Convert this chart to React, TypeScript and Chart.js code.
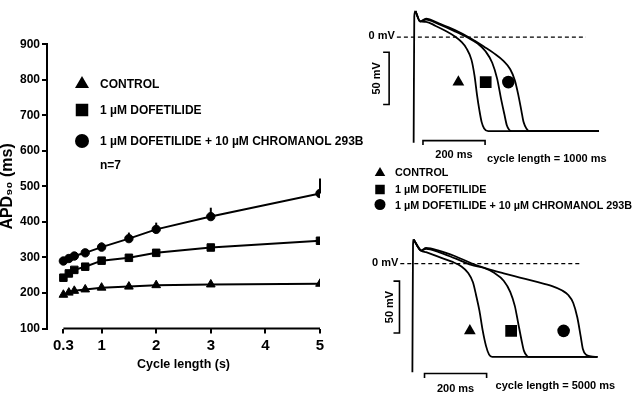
import React, { useEffect, useRef } from "react";
import { Chart, registerables } from "chart.js";

Chart.register(...registerables);

const FONT = "'Liberation Sans', Arial, Helvetica, sans-serif";
const BLACK = "#000";

// ---------------- Left panel data (APD90 vs cycle length) ----------------
const cycleLengths = [0.3, 0.4, 0.5, 0.7, 1, 1.5, 2, 3, 5];
const apdControl = [195, 201, 206, 210, 215, 218, 222, 224, 226];
const apdDofetilide = [243, 255, 265, 274, 291, 299, 313, 328, 347];
const apdChromanol = [290, 297, 304, 313, 329, 353, 379, 415, 480];
const apdChromanolErr = [3, 4, 4, 6, 13, 17, 19, 25, 42];
const xTickValues = [0.3, 1, 2, 3, 4, 5];
const xTickLabels = ["0.3", "1", "2", "3", "4", "5"];
const seriesNames = ["CONTROL", "1 µM DOFETILIDE", "1 µM DOFETILIDE + 10 µM CHROMANOL 293B"];
const seriesStyles = ["triangle", "rect", "circle"];

// ---------------- Action potential traces (time in ms, voltage in mV) ----------------
// cycle length = 1000 ms
const up1000T = [0, 2, 6];
const up1000V = [-101, 20, 25];
const ctrl1000T = [6, 21, 40, 71, 102, 133, 154, 170, 186, 196, 204, 212, 219, 227, 240, 597];
const ctrl1000V = [25, 15, 14.7, 10.7, 6.1, 0.6, -4.6, -10.7, -21.5, -36.8, -55.2, -70.5, -81.3, -87.4, -90, -90];
const dof1000T = [6, 21, 40, 81, 133, 175, 206, 232, 253, 269, 281, 292, 300, 308, 316, 597];
const dof1000V = [25, 15, 16.9, 12.3, 5.5, -0.6, -6.1, -13.8, -24.5, -39.9, -58.3, -73.6, -84.3, -88.9, -90, -90];
const chr1000T = [6, 21, 40, 81, 133, 186, 227, 258, 290, 311, 326, 337, 347, 354, 363, 373, 597];
const chr1000V = [25, 15, 17.8, 13.2, 6.7, -1.5, -9.2, -15.3, -23, -30.7, -41.4, -55.2, -70.5, -81.3, -87.4, -90, -90];
const mark1000T = [144, 232, 305];
const mark1000V = [-43, -43, -43];

// cycle length = 5000 ms
const up5000T = [0, 2, 4];
const up5000V = [-105, 18, 23.3];
const ctrl5000T = [4, 28, 44, 85, 127, 158, 179, 195, 205, 216, 226, 237, 247, 257, 596];
const ctrl5000V = [23.3, 12.5, 11, 6.4, 1.8, -2.8, -8.9, -18.1, -30.4, -45.7, -64.1, -79.5, -88, -90.2, -90.2];
const dof5000T = [4, 28, 44, 85, 138, 190, 231, 263, 294, 315, 330, 341, 351, 359, 369, 377, 596];
const dof5000V = [23.3, 12.5, 14.1, 11, 4.9, -1.3, -4.3, -8.9, -16.6, -27.3, -41.1, -58, -73.3, -84.1, -89.3, -90.2, -90.2];
const chr5000T = [4, 28, 44, 85, 138, 190, 242, 294, 346, 398, 450, 481, 502, 518, 531, 542, 549, 559, 575, 596];
const chr5000V = [23.3, 12.5, 15, 12.5, 7, 0.3, -5.2, -9.5, -13.5, -17.5, -21.8, -25.8, -30.4, -38.1, -51.9, -70.3, -82.5, -88, -89.6, -90.2];
const mark5000T = [185, 318, 487];
const mark5000V = [-65, -65, -65];

// ---------------- helpers ----------------
function pts(xs: number[], ys: number[]) {
  return xs.map((x, i) => ({ x, y: ys[i] }));
}

function drawMarker(ctx: CanvasRenderingContext2D, style: string, x: number, y: number, size: number) {
  ctx.beginPath();
  if (style === "triangle") {
    const h = (size * Math.sqrt(3)) / 2;
    ctx.moveTo(x, y - (h * 2) / 3);
    ctx.lineTo(x + size / 2, y + h / 3);
    ctx.lineTo(x - size / 2, y + h / 3);
    ctx.closePath();
  } else if (style === "rect") {
    ctx.rect(x - size / 2, y - size / 2, size, size);
  } else {
    ctx.arc(x, y, size / 2, 0, Math.PI * 2);
  }
  ctx.fill();
}

// ---------------- left chart ----------------
const leftPlugin = {
  id: "leftExtras",
  afterDatasetsDraw(chart: any) {
    const { ctx, scales } = chart;
    const x = scales.x;
    const y = scales.y;
    ctx.save();
    ctx.strokeStyle = BLACK;
    ctx.lineWidth = 2;
    // split x-axis line from the first to the last tick
    ctx.beginPath();
    ctx.moveTo(x.getPixelForValue(xTickValues[0]), chart.chartArea.bottom);
    ctx.lineTo(x.getPixelForValue(xTickValues[xTickValues.length - 1]), chart.chartArea.bottom);
    ctx.stroke();
    // error bars (upward)
    cycleLengths.forEach((c, i) => {
      const px = x.getPixelForValue(c);
      ctx.beginPath();
      ctx.moveTo(px, y.getPixelForValue(apdChromanol[i]));
      ctx.lineTo(px, y.getPixelForValue(apdChromanol[i] + apdChromanolErr[i]));
      ctx.stroke();
    });
    ctx.restore();
  },
  afterDraw(chart: any) {
    const ctx = chart.ctx;
    ctx.save();
    ctx.fillStyle = BLACK;
    ctx.font = `bold 12px ${FONT}`;
    ctx.textBaseline = "middle";
    ctx.textAlign = "left";
    const rowY = [84, 110, 141];
    const sizes = [14, 12.5, 14];
    seriesNames.forEach((name, i) => {
      drawMarker(ctx, seriesStyles[i], 82, rowY[i], sizes[i]);
      ctx.fillText(name, 100, rowY[i] + 0.5);
    });
    ctx.fillText("n=7", 100, 166);
    ctx.restore();
  },
};

function lineDs(label: string, ys: number[], style: string, radius: number) {
  return {
    label,
    data: pts(cycleLengths, ys),
    borderColor: BLACK,
    backgroundColor: BLACK,
    borderWidth: 2,
    pointStyle: style,
    pointRadius: radius,
    pointBorderWidth: 1,
    pointBackgroundColor: BLACK,
    pointBorderColor: BLACK,
    tension: 0,
  };
}

function makeLeftConfig(): any {
  return {
    type: "line",
    data: {
      datasets: [
        lineDs(seriesNames[0], apdControl, "triangle", 5),
        lineDs(seriesNames[1], apdDofetilide, "rect", 5.3),
        lineDs(seriesNames[2], apdChromanol, "circle", 4.2),
      ],
    },
    options: {
      responsive: false,
      animation: false,
      devicePixelRatio: 1,
      events: [],
      layout: { padding: { left: 0, top: 44.3, right: 320, bottom: 0 } },
      plugins: { legend: { display: false }, tooltip: { enabled: false } },
      scales: {
        x: {
          type: "linear",
          min: 0,
          max: 5,
          afterFit: (s: any) => {
            s.height = 404 - 328.5;
          },
          afterBuildTicks: (s: any) => {
            s.ticks = xTickValues.map((v) => ({ value: v }));
          },
          border: { display: false },
          grid: { display: true, drawOnChartArea: false, drawTicks: true, tickLength: 5, color: BLACK, lineWidth: 2 },
          ticks: {
            autoSkip: false,
            maxRotation: 0,
            padding: 3,
            color: BLACK,
            font: { family: FONT, size: 15, weight: "bold" },
            callback: (_v: any, i: number) => xTickLabels[i],
          },
          title: {
            display: true,
            text: "Cycle length (s)",
            color: BLACK,
            font: { family: FONT, size: 12.5, weight: "bold" },
            padding: { top: 0, bottom: 32 },
          },
        },
        y: {
          type: "linear",
          min: 100,
          max: 900,
          afterFit: (s: any) => {
            s.width = 47;
          },
          border: { display: true, color: BLACK, width: 2 },
          grid: { display: true, drawOnChartArea: false, drawTicks: true, tickLength: 5, color: BLACK, lineWidth: 2 },
          ticks: {
            stepSize: 100,
            padding: 2,
            color: BLACK,
            font: { family: FONT, size: 12, weight: "bold" },
          },
          title: {
            display: true,
            text: "APD₉₀ (ms)",
            color: BLACK,
            font: { family: FONT, size: 16, weight: "bold", lineHeight: 1 },
            padding: { top: 0, bottom: 0 },
          },
        },
      },
    },
    plugins: [leftPlugin],
  };
}

// ---------------- trace charts ----------------
type PanelLayout = {
  padding: { left: number; top: number; right: number; bottom: number };
  xRange: [number, number];
  yRange: [number, number];
  zeroFrom: number;
  zeroTo: number;
  mvBarT: number;
  mvBarFrom: number;
  mvBarTo: number;
  mvLabelDx: number;
  msBarV: number;
  msBarFrom: number;
  msBarTo: number;
  msLabelDy: number;
  cycleLabel: string;
  cycleDx: number;
  cycleDy: number;
};

const layout1000: PanelLayout = {
  padding: { left: 360, top: 0, right: 0, bottom: 189 },
  xRange: [-172.8, 702.2],
  yRange: [-170.2, 27.6],
  zeroFrom: -54,
  zeroTo: 555,
  mvBarT: -79,
  mvBarFrom: -14.5,
  mvBarTo: -64.5,
  mvLabelDx: -12,
  msBarV: -99,
  msBarFrom: 30,
  msBarTo: 230,
  msLabelDy: 14.5,
  cycleLabel: "cycle length = 1000 ms",
  cycleDx: 2,
  cycleDy: 18,
};

const layout5000: PanelLayout = {
  padding: { left: 360, top: 228, right: 0, bottom: 0 },
  xRange: [-168.75, 706.25],
  yRange: [-127.6, 34.3],
  zeroFrom: -39,
  zeroTo: 544,
  mvBarT: -41.6,
  mvBarFrom: -17,
  mvBarTo: -67,
  mvLabelDx: -9.5,
  msBarV: -106.2,
  msBarFrom: 39,
  msBarTo: 239,
  msLabelDy: 15,
  cycleLabel: "cycle length = 5000 ms",
  cycleDx: 9,
  cycleDy: 12.5,
};

function makeTracePlugin(L: PanelLayout, withLegend: boolean) {
  return {
    id: "traceExtras",
    afterDraw(chart: any) {
      const { ctx, scales } = chart;
      const x = scales.x;
      const y = scales.y;
      ctx.save();
      ctx.strokeStyle = BLACK;
      ctx.fillStyle = BLACK;
      // dashed 0 mV line
      const y0 = y.getPixelForValue(0);
      ctx.lineWidth = 1.2;
      ctx.setLineDash([4, 3]);
      ctx.beginPath();
      ctx.moveTo(x.getPixelForValue(L.zeroFrom), y0);
      ctx.lineTo(x.getPixelForValue(L.zeroTo), y0);
      ctx.stroke();
      ctx.setLineDash([]);
      ctx.font = `bold 11px ${FONT}`;
      ctx.textBaseline = "middle";
      ctx.textAlign = "right";
      ctx.fillText("0 mV", x.getPixelForValue(L.zeroFrom) - 2, y0 - 1);

      // 50 mV scale bar
      ctx.lineWidth = 1.6;
      const bx = x.getPixelForValue(L.mvBarT);
      const bt = y.getPixelForValue(L.mvBarFrom);
      const bb = y.getPixelForValue(L.mvBarTo);
      ctx.beginPath();
      ctx.moveTo(bx - 6, bt);
      ctx.lineTo(bx, bt);
      ctx.lineTo(bx, bb);
      ctx.lineTo(bx - 6, bb);
      ctx.stroke();
      ctx.save();
      ctx.translate(bx + L.mvLabelDx, (bt + bb) / 2);
      ctx.rotate(-Math.PI / 2);
      ctx.textAlign = "center";
      ctx.fillText("50 mV", 0, 0);
      ctx.restore();

      // 200 ms scale bar
      const my = y.getPixelForValue(L.msBarV);
      const mx1 = x.getPixelForValue(L.msBarFrom);
      const mx2 = x.getPixelForValue(L.msBarTo);
      ctx.beginPath();
      ctx.moveTo(mx1, my + 4.5);
      ctx.lineTo(mx1, my);
      ctx.lineTo(mx2, my);
      ctx.lineTo(mx2, my + 4.5);
      ctx.stroke();
      ctx.textAlign = "center";
      ctx.fillText("200 ms", (mx1 + mx2) / 2, my + L.msLabelDy);
      ctx.textAlign = "left";
      ctx.fillText(L.cycleLabel, mx2 + L.cycleDx, my + L.cycleDy);

      if (withLegend) {
        ctx.font = `bold 10.8px ${FONT}`;
        const rowY = [173, 189.5, 205.5];
        const sizes = [10.5, 9.5, 11];
        seriesNames.forEach((name, i) => {
          drawMarker(ctx, seriesStyles[i], 380, rowY[i] - (i === 2 ? 1 : 0), sizes[i]);
          ctx.fillText(name, 395, rowY[i] + 0.5);
        });
      }
      ctx.restore();
    },
  };
}

function traceDs(ts: number[], vs: number[]) {
  return {
    data: pts(ts, vs),
    borderColor: BLACK,
    borderWidth: 1.8,
    pointRadius: 0,
    cubicInterpolationMode: "monotone",
    fill: false,
  };
}

function makeTraceConfig(
  L: PanelLayout,
  traces: [number[], number[]][],
  markT: number[],
  markV: number[],
  withLegend: boolean
): any {
  return {
    type: "line",
    data: {
      datasets: [
        ...traces.map(([t, v]) => traceDs(t, v)),
        {
          type: "scatter",
          data: pts(markT, markV),
          pointStyle: seriesStyles,
          pointRadius: [6.8, 8.3, 6.3],
          pointBorderWidth: 0,
          backgroundColor: BLACK,
          borderColor: BLACK,
        },
      ],
    },
    options: {
      responsive: false,
      animation: false,
      devicePixelRatio: 1,
      events: [],
      layout: { padding: L.padding },
      plugins: { legend: { display: false }, tooltip: { enabled: false } },
      scales: {
        x: { type: "linear", display: false, min: L.xRange[0], max: L.xRange[1] },
        y: { type: "linear", display: false, min: L.yRange[0], max: L.yRange[1] },
      },
    },
    plugins: [makeTracePlugin(L, withLegend)],
  };
}

function ChartCanvas({ makeConfig }: { makeConfig: () => any }) {
  const ref = useRef<HTMLCanvasElement | null>(null);
  useEffect(() => {
    if (!ref.current) return;
    const chart = new Chart(ref.current, makeConfig());
    return () => chart.destroy();
  }, [makeConfig]);
  return (
    <canvas
      ref={ref}
      width={640}
      height={404}
      style={{ position: "absolute", left: 0, top: 0, width: 640, height: 404 }}
    />
  );
}

const cfgLeft = () => makeLeftConfig();
const cfgTop = () =>
  makeTraceConfig(
    layout1000,
    [
      [up1000T, up1000V],
      [ctrl1000T, ctrl1000V],
      [dof1000T, dof1000V],
      [chr1000T, chr1000V],
    ],
    mark1000T,
    mark1000V,
    true
  );
const cfgBottom = () =>
  makeTraceConfig(
    layout5000,
    [
      [up5000T, up5000V],
      [ctrl5000T, ctrl5000V],
      [dof5000T, dof5000V],
      [chr5000T, chr5000V],
    ],
    mark5000T,
    mark5000V,
    false
  );

export default function App() {
  return (
    <div style={{ position: "fixed", left: 0, top: 0, width: 640, height: 404, background: "#fff", overflow: "hidden" }}>
      <ChartCanvas makeConfig={cfgLeft} />
      <ChartCanvas makeConfig={cfgTop} />
      <ChartCanvas makeConfig={cfgBottom} />
    </div>
  );
}
